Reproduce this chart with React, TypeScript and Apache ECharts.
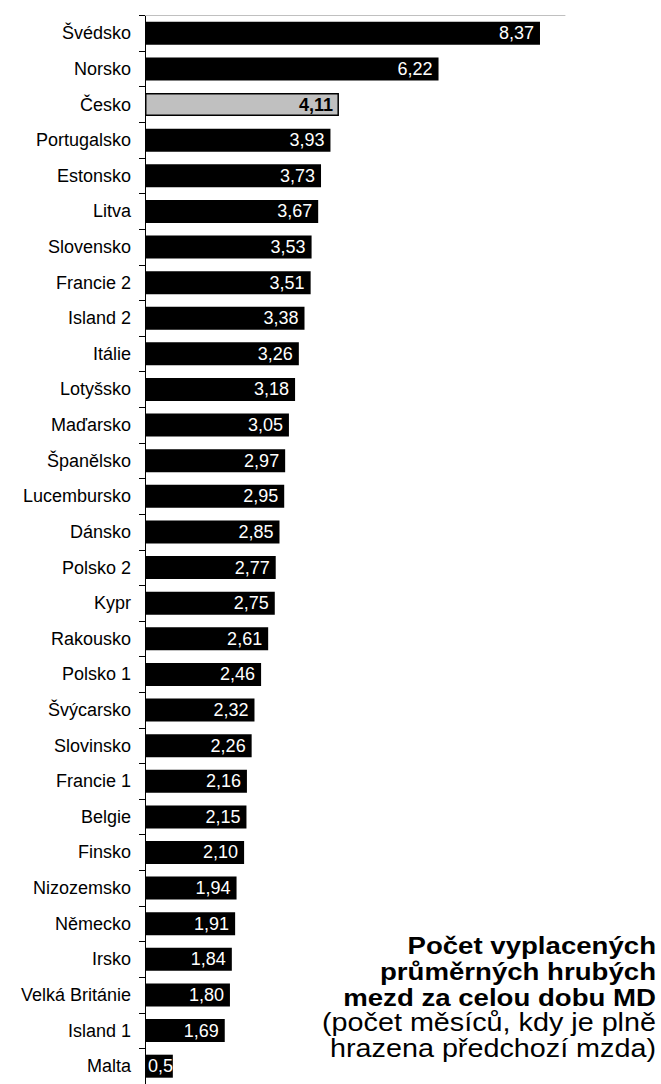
import React, { useEffect, useRef } from "react";
import * as echarts from "echarts";

const categories = [
  "Švédsko", "Norsko", "Česko", "Portugalsko", "Estonsko", "Litva", "Slovensko",
  "Francie 2", "Island 2", "Itálie", "Lotyšsko", "Maďarsko", "Španělsko",
  "Lucembursko", "Dánsko", "Polsko 2", "Kypr", "Rakousko", "Polsko 1",
  "Švýcarsko", "Slovinsko", "Francie 1", "Belgie", "Finsko", "Nizozemsko",
  "Německo", "Irsko", "Velká Británie", "Island 1", "Malta",
];
const values = [
  8.37, 6.22, 4.11, 3.93, 3.73, 3.67, 3.53, 3.51, 3.38, 3.26, 3.18, 3.05, 2.97,
  2.95, 2.85, 2.77, 2.75, 2.61, 2.46, 2.32, 2.26, 2.16, 2.15, 2.10, 1.94, 1.91,
  1.84, 1.80, 1.69, 0.59,
];
const highlight = "Česko";
const smallLabel = "Malta";
const titleLines = [
  { text: "Počet vyplacených", bold: true },
  { text: "průměrných hrubých", bold: true },
  { text: "mezd za celou dobu MD", bold: true },
  { text: "(počet měsíců, kdy je plně", bold: false },
  { text: "hrazena předchozí mzda)", bold: false },
];

const FONT = "'Liberation Sans', Arial, sans-serif";

export default function App() {
  const ref = useRef<HTMLDivElement>(null);
  useEffect(() => {
    if (!ref.current) return;
    const chart = echarts.init(ref.current, undefined, { renderer: "svg" });
    const fmt = (v: number) => v.toFixed(2).replace(".", ",");
    const data = values.map((v, i) => {
      const item: any = { value: v };
      if (categories[i] === highlight) {
        item.itemStyle = { color: "#c0c0c0", borderColor: "#000", borderWidth: 1.5 };
        item.label = { color: "#000", fontWeight: "bold" };
      }
      if (categories[i] === smallLabel) {
        item.label = { position: "insideLeft", distance: 3 };
      }
      return item;
    });
    chart.setOption({
      animation: false,
      grid: { left: 145, top: 15.5, width: 420, height: 1072.5, containLabel: false },
      xAxis: {
        type: "value",
        min: 0,
        max: 8.9,
        position: "top",
        axisLine: { show: true, lineStyle: { color: "#c0c0c0", width: 1 } },
        axisTick: { show: false },
        axisLabel: { show: false },
        splitLine: { show: false },
      },
      yAxis: {
        type: "category",
        data: categories,
        inverse: true,
        axisLine: { show: true, lineStyle: { color: "#000", width: 1 } },
        axisTick: { show: true, length: 6, lineStyle: { color: "#000" } },
        axisLabel: { color: "#000", fontSize: 18, fontFamily: FONT, margin: 14 },
      },
      series: [
        {
          type: "bar",
          data,
          barWidth: 23,
          itemStyle: { color: "#000" },
          label: {
            show: true,
            position: "insideRight",
            distance: 6,
            color: "#fff",
            fontSize: 18,
            fontFamily: FONT,
            formatter: (p: any) => fmt(p.value),
          },
        },
      ],
      graphic: titleLines.map((l, i) => ({
        type: "text",
        x: 656,
        y: 946 + i * 25.7,
        scaleX: 1.15,
        style: {
          text: l.text,
          fontSize: l.bold ? 24 : 25,
          fontWeight: l.bold ? "bold" : "normal",
          fontFamily: FONT,
          fill: "#000",
          align: "right",
          verticalAlign: "middle",
        },
      })),
    });
    return () => chart.dispose();
  }, []);
  return (
    <div
      ref={ref}
      style={{ position: "absolute", left: 0, top: 0, width: 661, height: 1084 }}
    />
  );
}
